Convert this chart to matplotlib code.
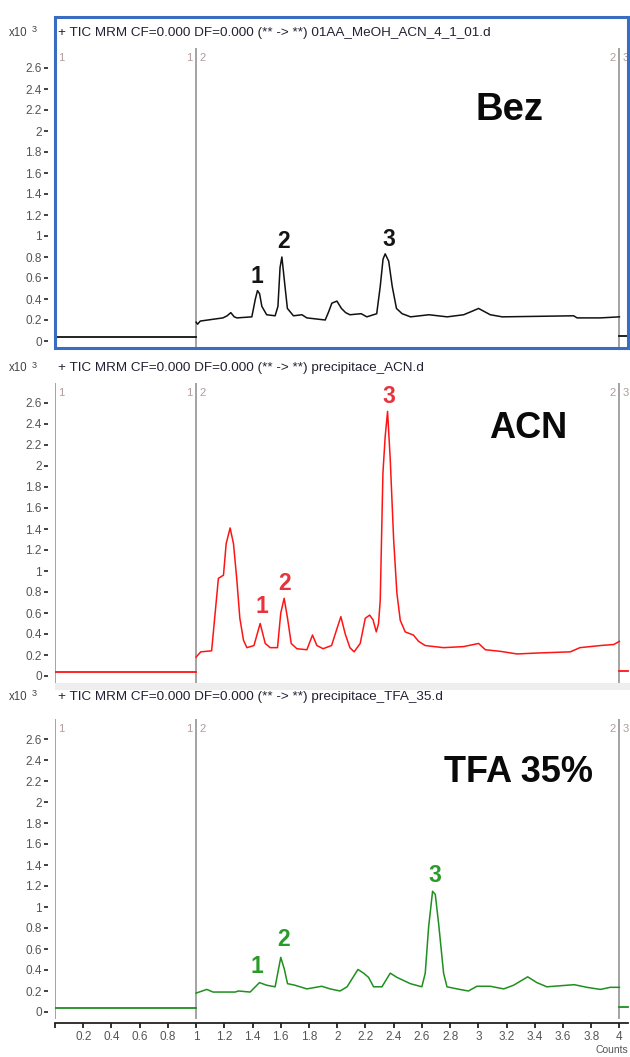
import matplotlib
matplotlib.use("Agg")
import matplotlib.pyplot as plt
from matplotlib.patches import Rectangle
from matplotlib.ticker import FuncFormatter

plt.rcParams['font.family'] = ['Liberation Sans', 'DejaVu Sans']

# ---------------- data ----------------
headers = [
    "+ TIC MRM CF=0.000 DF=0.000 (** -> **) 01AA_MeOH_ACN_4_1_01.d",
    "+ TIC MRM CF=0.000 DF=0.000 (** -> **) precipitace_ACN.d",
    "+ TIC MRM CF=0.000 DF=0.000 (** -> **) precipitace_TFA_35.d",
]
names = ["Bez", "ACN", "TFA 35%"]

seg1_t = [0.0, 1.0]
seg1_v = [0.04, 0.04]
seg3_t = [4.0, 4.06]
seg3_v = [0.05, 0.05]

t_bez = [1.00, 1.01, 1.03, 1.19, 1.22, 1.246, 1.27, 1.29, 1.395, 1.42, 1.435, 1.45, 1.466,
         1.50, 1.56, 1.58, 1.595, 1.608, 1.63, 1.647, 1.69, 1.75, 1.785, 1.915, 1.94, 1.962,
         1.998, 2.03, 2.06, 2.09, 2.17, 2.21, 2.28, 2.305, 2.325, 2.34, 2.365, 2.39, 2.42,
         2.46, 2.52, 2.65, 2.78, 2.896, 2.95, 3.002, 3.085, 3.17, 3.676, 3.70, 3.865, 4.00]
v_bez = [0.18, 0.16, 0.19, 0.22, 0.24, 0.27, 0.23, 0.22, 0.23, 0.40, 0.48, 0.45, 0.33,
         0.25, 0.24, 0.33, 0.70, 0.80, 0.52, 0.31, 0.24, 0.25, 0.22, 0.20, 0.28, 0.36,
         0.38, 0.31, 0.27, 0.25, 0.26, 0.23, 0.26, 0.52, 0.78, 0.83, 0.76, 0.52, 0.31,
         0.26, 0.23, 0.25, 0.23, 0.25, 0.28, 0.31, 0.25, 0.23, 0.24, 0.22, 0.22, 0.23]

t_acn = [1.00, 1.033, 1.11, 1.135, 1.158, 1.194, 1.213, 1.241, 1.265, 1.289, 1.31, 1.336,
         1.36, 1.41, 1.454, 1.49, 1.525, 1.577, 1.60, 1.624, 1.648, 1.674, 1.714, 1.785,
         1.825, 1.856, 1.90, 1.96, 1.998, 2.026, 2.057, 2.09, 2.12, 2.163, 2.199, 2.23,
         2.254, 2.277, 2.293, 2.305, 2.324, 2.34, 2.357, 2.376, 2.40, 2.423, 2.447, 2.482,
         2.54, 2.577, 2.624, 2.754, 2.896, 3.002, 3.05, 3.156, 3.274, 3.44, 3.652, 3.72,
         3.865, 3.96, 4.00]
v_acn = [0.18, 0.23, 0.24, 0.60, 0.93, 0.96, 1.26, 1.41, 1.26, 0.91, 0.55, 0.34,
         0.27, 0.29, 0.50, 0.31, 0.27, 0.27, 0.60, 0.74, 0.55, 0.31, 0.26, 0.25,
         0.39, 0.29, 0.26, 0.29, 0.45, 0.565, 0.40, 0.27, 0.23, 0.31, 0.55, 0.58,
         0.535, 0.42, 0.50, 0.72, 1.93, 2.28, 2.52, 2.06, 1.30, 0.79, 0.53, 0.42,
         0.39, 0.33, 0.29, 0.27, 0.28, 0.31, 0.25, 0.235, 0.21, 0.22, 0.23, 0.27,
         0.29, 0.30, 0.33]

t_tfa = [1.00, 1.076, 1.12, 1.277, 1.30, 1.383, 1.449, 1.50, 1.56, 1.60, 1.625, 1.648,
         1.70, 1.785, 1.89, 1.95, 2.02, 2.07, 2.147, 2.187, 2.222, 2.258, 2.317, 2.376,
         2.423, 2.518, 2.60, 2.624, 2.648, 2.676, 2.695, 2.719, 2.754, 2.778, 2.849, 2.93,
         2.99, 3.085, 3.18, 3.25, 3.35, 3.415, 3.486, 3.63, 3.68, 3.77, 3.865, 3.935, 4.00]
v_tfa = [0.18, 0.215, 0.19, 0.19, 0.20, 0.19, 0.28, 0.255, 0.24, 0.52, 0.41, 0.27,
         0.255, 0.22, 0.245, 0.22, 0.20, 0.24, 0.405, 0.37, 0.33, 0.24, 0.24, 0.37,
         0.33, 0.27, 0.24, 0.37, 0.81, 1.15, 1.12, 0.84, 0.37, 0.24, 0.22, 0.20,
         0.245, 0.245, 0.22, 0.255, 0.335, 0.28, 0.24, 0.255, 0.26, 0.235, 0.215, 0.235, 0.235]

peak_labels = ["1", "2", "3"]
peak_t = [[1.43, 1.618, 2.369], [1.465, 1.63, 2.367], [1.434, 1.62, 2.693]]
peak_v = [[0.61, 0.947, 0.962], [0.66, 0.88, 2.66], [0.43, 0.687, 1.30]]

y_ticks = [0, 0.2, 0.4, 0.6, 0.8, 1.0, 1.2, 1.4, 1.6, 1.8, 2.0, 2.2, 2.4, 2.6]
x_ticks = [0, 0.2, 0.4, 0.6, 0.8, 1.0, 1.2, 1.4, 1.6, 1.8, 2.0, 2.2, 2.4, 2.6, 2.8,
           3.0, 3.2, 3.4, 3.6, 3.8, 4.0]

traces = [(t_bez, v_bez), (t_acn, v_acn), (t_tfa, v_tfa)]
line_colors = ["#111111", "#ff1414", "#1f8f1f"]
label_colors = ["#151515", "#e8323c", "#2a9a2a"]

# ---------------- layout ----------------
W, H = 630, 1057
fig = plt.figure(figsize=(W / 100, H / 100), dpi=100)
fig.patch.set_facecolor("white")


def rect(left, top, right, bottom):
    return [left / W, 1 - bottom / H, (right - left) / W, (bottom - top) / H]


def fx(x):
    return x / W


def fy(y):
    return 1 - y / H


panel_tops = [48, 383, 719]
header_y = [33, 368, 697]
name_base = [120, 438, 782]
name_x = [510, 528, 519]
name_size = [27.5, 26, 26]
XL, XR = 55, 628
XMAX = (XR - XL) / 141.1
YMIN, YMAX = -7 / 105, 293 / 105

gfmt = FuncFormatter(lambda v, p: "%g" % round(v, 2))

for i in range(3):
    top = panel_tops[i]
    ax = fig.add_axes(rect(XL, top, XR, top + 300))
    ax.set_xlim(0, XMAX)
    ax.set_ylim(YMIN, YMAX)
    for s in ["top", "right", "bottom"]:
        ax.spines[s].set_visible(False)
    ax.spines["left"].set_position(("outward", 5))
    ax.spines["left"].set_visible(False)
    ax.set_yticks(y_ticks)
    ax.yaxis.set_major_formatter(gfmt)
    ax.tick_params(axis="y", direction="out", length=3, width=1.3, color="#333333",
                   labelsize=8.5, labelcolor="#555555", pad=1.5)
    ax.patch.set_alpha(0)

    if i == 2:
        ax.spines["bottom"].set_visible(True)
        ax.spines["bottom"].set_position(("outward", 3))
        ax.spines["bottom"].set_color("#222222")
        ax.spines["bottom"].set_linewidth(1.3)
        ax.set_xticks(x_ticks)
        ax.xaxis.set_major_formatter(FuncFormatter(lambda v, p: "" if v == 0 else "%g" % round(v, 2)))
        ax.tick_params(axis="x", direction="out", length=3.5, width=1.3, color="#222222",
                       labelsize=8.5, labelcolor="#555555", pad=2.5)
    else:
        ax.set_xticks([])

    # segment boundary lines
    for xv in [0.0, 1.0, 4.0]:
        ax.axvline(xv, color="#8a8a8a", lw=1.1, zorder=1)
    # segment labels
    seg_kw = dict(transform=ax.get_xaxis_transform(), fontsize=8, color="#b09a9a", va="center")
    yl = 1 - 10 / 300
    ax.text(0.02, yl, "1", ha="left", **seg_kw)
    ax.text(0.975, yl, "1", ha="right", **seg_kw)
    ax.text(1.025, yl, "2", ha="left", **seg_kw)
    ax.text(3.975, yl, "2", ha="right", **seg_kw)
    ax.text(4.025, yl, "3", ha="left", **seg_kw)

    t, v = traces[i]
    c = line_colors[i]
    ax.plot(seg1_t, seg1_v, color=c, lw=1.3, zorder=3)
    ax.plot(t, v, color=c, lw=1.1, zorder=3)
    ax.plot(seg3_t, seg3_v, color=c, lw=1.3, zorder=3, clip_on=False)

    for lab, pt, pv in zip(peak_labels, peak_t[i], peak_v[i]):
        ax.text(pt, pv, lab, ha="center", va="center", fontsize=16.5, fontweight="bold",
                color=label_colors[i])

    # header
    fig.text(fx(58), fy(header_y[i]), headers[i], fontsize=9.7, color="#222233",
             ha="left", va="center")
    fig.text(fx(9), fy(header_y[i]), "x10", fontsize=8.3, color="#444444", ha="left", va="center")
    fig.text(fx(32), fy(header_y[i] - 3), "3", fontsize=6.5, color="#444444", ha="left", va="center")

    # sample name
    fig.text(fx(name_x[i]), fy(name_base[i]), names[i], fontsize=name_size[i], fontweight="bold",
             color="#0a0a0a", ha="center", va="baseline")

# blue selection frame around first panel
fig.add_artist(Rectangle((fx(55), fy(348)), (628 - 55) / W, (348 - 17) / H,
                         transform=fig.transFigure, fill=False, ec="#3a6cc2", lw=2.2))
# light separator band
fig.add_artist(Rectangle((fx(55), fy(690)), (630 - 55) / W, 7 / H,
                         transform=fig.transFigure, fc="#eeeeee", ec="none", zorder=0))

fig.text(fx(628), fy(1050), "Counts", fontsize=7.5, color="#555555", ha="right", va="center")

fig.savefig("out.png", dpi=100, facecolor="white")
